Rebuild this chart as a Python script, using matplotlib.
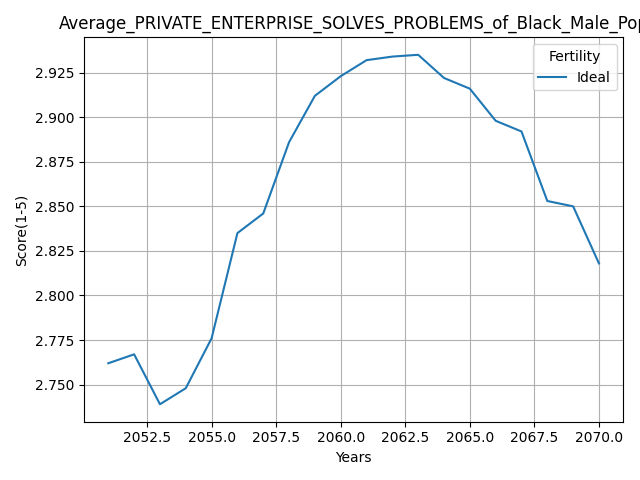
import matplotlib
matplotlib.use("Agg")
import matplotlib.pyplot as plt

years = list(range(2051, 2071))
ideal = [2.762, 2.767, 2.739, 2.748, 2.776, 2.835, 2.846, 2.886, 2.912, 2.923,
         2.932, 2.934, 2.935, 2.922, 2.916, 2.898, 2.892, 2.853, 2.850, 2.818]

fig, ax = plt.subplots(figsize=(6.4, 4.8), dpi=100)
ax.plot(years, ideal, label="Ideal")
ax.set_title("Average_PRIVATE_ENTERPRISE_SOLVES_PROBLEMS_of_Black_Male_Pop")
ax.set_xlabel("Years")
ax.set_ylabel("Score(1-5)")
ax.grid(True)
ax.legend(title="Fertility", loc="upper right")
fig.tight_layout()
fig.savefig("out.png")
